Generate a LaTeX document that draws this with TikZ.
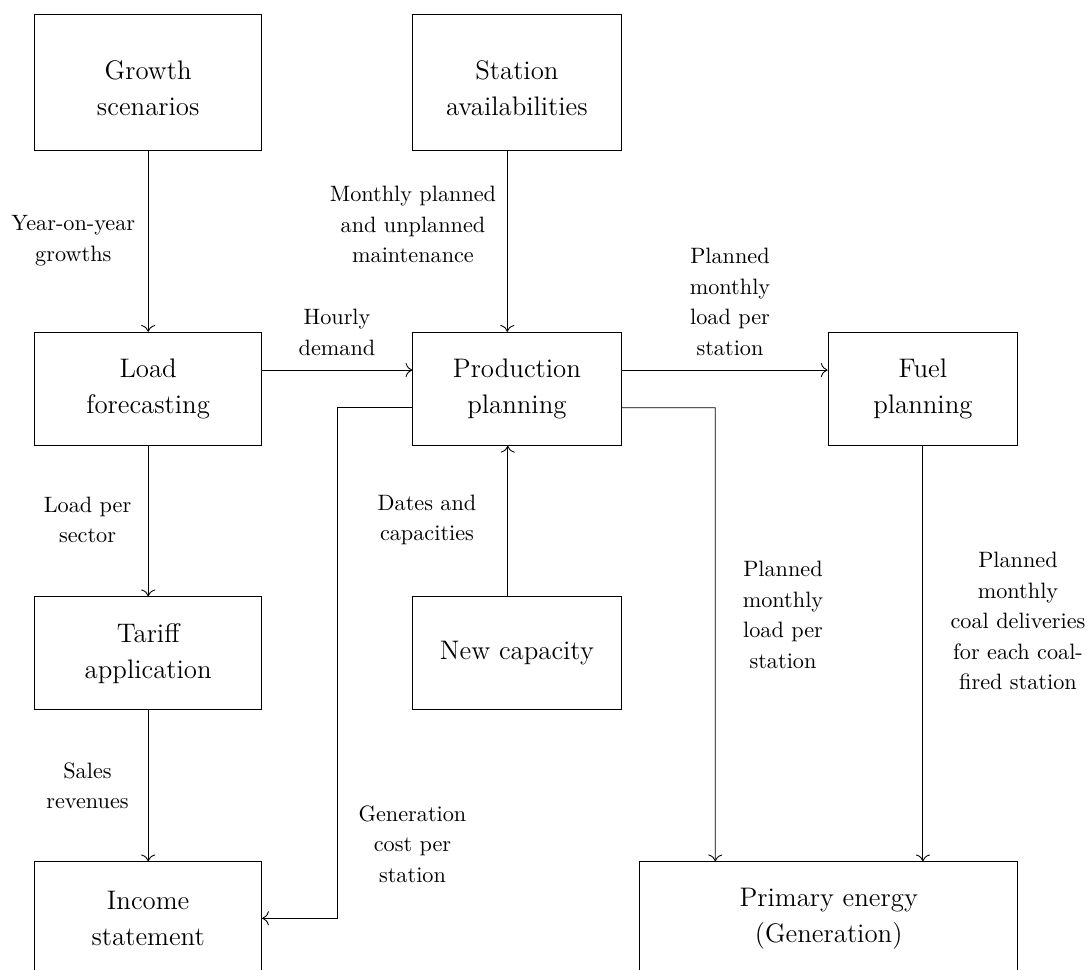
\documentclass[tikz,border=0pt]{standalone}
\usetikzlibrary{calc,arrows.meta}
\begin{document}
\begin{tikzpicture}[x=0.4587pt,y=-0.4587pt,
  box/.style={draw, line width=0.4pt, inner sep=0pt, align=center, font=\fontsize{12.3}{16.5}\selectfont},
  lbl/.style={align=center, inner sep=0pt, font=\fontsize{10.2}{14}\selectfont},
  arr/.style={-{To[scale=1.25]}, line width=0.4pt}]
\useasboundingbox (0,0) rectangle (1088,970);
% boxes
\node[box, minimum width=104.1pt, minimum height=62.4pt] (gs) at (148.2,82.3) {\rule{0pt}{14.1pt}Growth\\scenarios};
\node[box, minimum width=95.5pt, minimum height=62.4pt] (sa) at (516.9,82.3) {\rule{0pt}{14.1pt}Station\\availabilities};
\node[box, minimum width=104.1pt, minimum height=51.9pt] (lf) at (148.2,388.8) {Load\\forecasting};
\node[box, minimum width=95.5pt, minimum height=51.9pt] (pp) at (516.9,388.8) {Production\\planning};
\node[box, minimum width=87.0pt, minimum height=51.9pt] (fp) at (922.9,388.8) {Fuel\\planning};
\node[box, minimum width=104.1pt, minimum height=51.9pt] (ta) at (148.2,653.3) {Tariff\\application};
\node[box, minimum width=95.5pt, minimum height=51.9pt] (nc) at (516.9,653.3) {New capacity};
\node[box, minimum width=104.1pt, minimum height=51.9pt] (is) at (148.2,918.3) {Income\\statement};
\node[box, minimum width=173.4pt, minimum height=51.9pt] (pe) at (828.7,918.3) {Primary energy\\(Generation)};
% connectors
\draw[arr] (gs.south) -- (lf.north);
\draw[arr] ([xshift=-4.4pt]sa.south) -- ([xshift=-4.4pt]pp.north);
\draw[arr] ([xshift=-4.2pt]nc.north) -- ([xshift=-4.2pt]pp.south);
\draw[arr] ([yshift=8.6pt]lf.east) -- ([yshift=8.6pt]pp.west);
\draw[arr] ([yshift=8.6pt]pp.east) -- ([yshift=8.6pt]fp.west);
\draw[arr] (lf.south) -- (ta.north);
\draw[arr] (ta.south) -- (is.north);
\coordinate (bendL) at (337.7,918.3);
\coordinate (bendR) at (715.3,407.7);
\draw[arr] ([yshift=-8.7pt]pp.west) -| (bendL) -- (is.east);
\draw[arr] ([yshift=-8.7pt]pp.east) -- (bendR) -- (bendR |- pe.north);
\draw[arr] (fp.south) -- (fp.south |- pe.north);
% labels
\node[lbl] (l1) at (73.3,240.5) {Year-on-year\\growths};
\node[lbl] (l2) at (413,224.7) {Monthly planned\\and unplanned\\maintenance};
\node[lbl] (l3) at (337,332.5) {Hourly\\demand};
\node[lbl] (l4) at (730,302) {Planned\\monthly\\load per\\station};
\node[lbl] (l5) at (87.5,520) {Load per\\sector};
\node[lbl] (l6) at (427,520) {Dates and\\capacities};
\node[lbl] (l7) at (783,615) {Planned\\monthly\\load per\\station};
\node[lbl] (l8) at (1018,621) {Planned\\monthly\\coal deliveries\\for each coal-\\fired station};
\node[lbl] (l9) at (87.5,786) {Sales\\revenues};
\node[lbl] (l10) at (412.5,844) {Generation\\cost per\\station};
\end{tikzpicture}
\end{document}
